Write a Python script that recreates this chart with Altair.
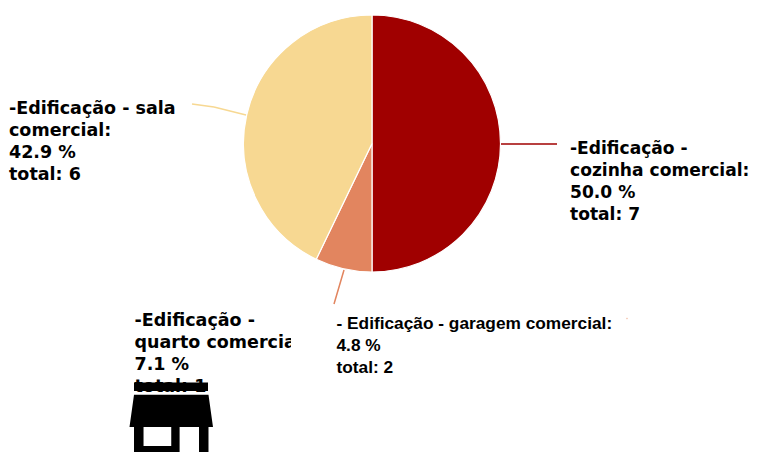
import altair as alt
import pandas as pd

categories = ["cozinha comercial", "quarto comercial", "sala comercial"]
values = [7, 1, 6]
colors = ["#a00000", "#e2855f", "#f7d892"]
order = [1, 2, 3]

DV = "DejaVu Sans"
LB = "Liberation Sans"
W, H = 742, 444


def P(v):
    return v - 8


FS = 17.5
FR = 17.1
labels = [
    (570, 148.5, "-Edificação -", DV, FR),
    (570, 170.5, "cozinha comercial:", DV, FR),
    (570, 192.5, "50.0 %", DV, FR),
    (570, 214.5, "total: 7", DV, FR),
    (9, 108.5, "-Edificação - sala", DV, FS),
    (9, 130.5, "comercial:", DV, FS),
    (9, 152.5, "42.9 %", DV, FS),
    (9, 174.5, "total: 6", DV, FS),
    (134.5, 320.5, "-Edificação -", DV, FS),
    (134.5, 342.5, "quarto comercial:", DV, FS),
    (134.5, 364.5, "7.1 %", DV, FS),
    (134.5, 386.5, "total: 1", DV, FS),
    (336.5, 323.5, "- Edificação - garagem comercial:", LB, 17.3),
    (336.5, 345.5, "4.8 %", LB, 17.3),
    (336.5, 367.5, "total: 2", LB, 17.3),
]

leaders = [
    (501, 144, 557, 144, "#a00000"),
    (344, 270, 334, 304, "#e2855f"),
    (246, 115, 214, 107, "#f7d892"),
    (214, 107, 192, 104, "#f7d892"),
    (626.5, 318, 627.5, 319, "#f3c3ad"),
]

SHOP = ("M-1 0.096 L-0.892 -0.678 H0.892 L1 0.096 H0.892 V0.8 H-0.892 V0.096 Z "
        "M-0.664 0.096 V0.551 H0 V0.096 Z M0.2 0.096 V0.8 H0.665 V0.096 Z")

pie_df = pd.DataFrame({"cat": categories, "v": values, "o": order})
pie = alt.Chart(pie_df).mark_arc(radius=128.5, stroke="#ffffff", strokeWidth=1.2).encode(
    theta=alt.Theta("v:Q", stack=True),
    order=alt.Order("o:Q"),
    color=alt.Color("cat:N", scale=alt.Scale(domain=categories, range=colors), legend=None),
    x=alt.value(P(372)), y=alt.value(P(143.5)),
)

one = pd.DataFrame({"a": [0]})
layers = [pie]
for x0, y0, x1, y1, c in leaders:
    layers.append(alt.Chart(one).mark_rule(color=c, strokeWidth=1.5).encode(
        x=alt.value(P(x0)), y=alt.value(P(y0)), x2=alt.value(P(x1)), y2=alt.value(P(y1))))

for x, y, t, f, s in labels:
    layers.append(alt.Chart(pd.DataFrame({"t": [t]})).mark_text(
        align="left", baseline="middle", font=f, fontSize=s, fontWeight="bold", color="#000000"
    ).encode(x=alt.value(P(x)), y=alt.value(P(y)), text="t:N"))

layers.append(alt.Chart(one).mark_rect(color="#ffffff").encode(
    x=alt.value(P(291)), x2=alt.value(P(330)), y=alt.value(P(331)), y2=alt.value(P(353))))
layers.append(alt.Chart(one).mark_rect(color="#000000").encode(
    x=alt.value(P(134)), x2=alt.value(P(208)), y=alt.value(P(382.5)), y2=alt.value(P(391))))
layers.append(alt.Chart(one).mark_point(
    shape=SHOP, filled=True, color="#000000", opacity=1, size=(2 * 41.75) ** 2
).encode(x=alt.value(P(171.25)), y=alt.value(P(423))))

chart = alt.layer(*layers).properties(
    width=W, height=H, padding=0, autosize=alt.AutoSizeParams(type="none")
).configure_view(stroke=None)

chart.save("out.html", embed_options={"renderer": "svg", "actions": False})
